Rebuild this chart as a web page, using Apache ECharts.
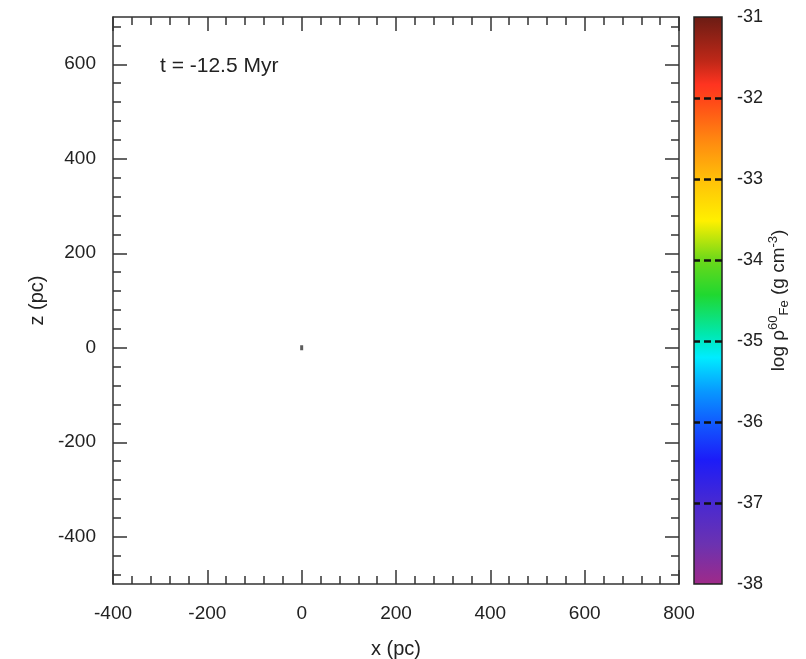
<!DOCTYPE html>
<html>
<head>
<meta charset="utf-8">
<script src="https://cdn.jsdelivr.net/npm/echarts@6/dist/echarts.min.js"></script>
<style>
  html, body { margin: 0; padding: 0; background: #fff; }
  #main { width: 806px; height: 659px; }
</style>
</head>
<body>
<div id="main"></div>
<script>
// particle position (pc)
const points = [[0, 0]];

// axis ranges and ticks
const xRange = [-400, 800];
const zRange = [-500, 700];
const xTicks = [-400, -200, 0, 200, 400, 600, 800];
const zTicks = [-400, -200, 0, 200, 400, 600];
const minorStep = 40;

// colour bar: log density range and labelled ticks
const cbRange = [-38, -31];
const cbTicks = [-38, -37, -36, -35, -34, -33, -32, -31];

const FONT = 'Liberation Sans, Arial, sans-serif';
const AX = '#333';

// minor ticks for the z axis (axis min is not a multiple of the major step)
function minorTicks(range, step) {
  const out = [];
  const start = Math.ceil(range[0] / step) * step;
  for (let v = start; v <= range[1]; v += step) out.push(v);
  return out;
}
const zMinor = minorTicks(zRange, minorStep);

const chart = echarts.init(document.getElementById('main'), null, { renderer: 'canvas' });

const frameAxis = (extra) => Object.assign({
  type: 'value',
  gridIndex: 0,
  axisLine: { show: true, onZero: false, lineStyle: { color: AX, width: 1.5 } },
  axisTick: { show: true, inside: true, length: 14, lineStyle: { color: AX, width: 1.5 } },
  axisLabel: { show: false },
  splitLine: { show: false }
}, extra);

const option = {
  animation: false,
  backgroundColor: '#fff',
  title: {
    text: 't = -12.5 Myr',
    left: 155,
    top: 51,
    textStyle: { fontFamily: FONT, fontSize: 21, fontWeight: 'normal', color: '#222' }
  },
  grid: [
    { left: 113, top: 17, width: 566, height: 567, containLabel: false, outerBoundsMode: 'none' },
    { left: 694, top: 17, width: 28, height: 567, containLabel: false, outerBoundsMode: 'none' }
  ],
  xAxis: [
    frameAxis({
      position: 'bottom', min: xRange[0], max: xRange[1], interval: 200,
      axisTick: { show: true, inside: true, length: 14, customValues: xTicks, lineStyle: { color: AX, width: 1.5 } },
      minorTick: { show: true, splitNumber: 5, length: 8, lineStyle: { color: AX, width: 1.5 } },
      axisLabel: { show: true, margin: 20, customValues: xTicks, fontFamily: FONT, fontSize: 19, color: '#222' },
      name: 'x (pc)', nameLocation: 'middle', nameGap: 55,
      nameTextStyle: { fontFamily: FONT, fontSize: 20, color: '#222' }
    }),
    frameAxis({
      position: 'top', min: xRange[0], max: xRange[1], interval: 200,
      minorTick: { show: true, splitNumber: 5, length: 8, lineStyle: { color: AX, width: 1.5 } }
    }),
    { type: 'value', gridIndex: 1, min: 0, max: 1, show: false }
  ],
  yAxis: [
    frameAxis({
      position: 'left', min: zRange[0], max: zRange[1],
      axisTick: { show: true, inside: true, length: 14, customValues: zTicks, lineStyle: { color: AX, width: 1.5 } },
      axisLabel: { show: true, margin: 17, customValues: zTicks, fontFamily: FONT, fontSize: 19, color: '#222' },
      name: 'z (pc)', nameLocation: 'middle', nameGap: 62, nameRotate: 90,
      nameTextStyle: { fontFamily: FONT, fontSize: 20, color: '#222' }
    }),
    frameAxis({
      position: 'right', min: zRange[0], max: zRange[1],
      axisTick: { show: true, inside: true, length: 14, customValues: zTicks, lineStyle: { color: AX, width: 1.5 } }
    }),
    frameAxis({
      position: 'left', min: zRange[0], max: zRange[1],
      axisLine: { show: false, onZero: false },
      axisTick: { show: true, inside: true, length: 8, customValues: zMinor, lineStyle: { color: AX, width: 1.5 } }
    }),
    frameAxis({
      position: 'right', min: zRange[0], max: zRange[1],
      axisLine: { show: false, onZero: false },
      axisTick: { show: true, inside: true, length: 8, customValues: zMinor, lineStyle: { color: AX, width: 1.5 } }
    }),
    {
      type: 'value', gridIndex: 1, position: 'right',
      min: cbRange[0], max: cbRange[1], interval: 1, z: 10,
      axisLine: { show: false, onZero: false },
      axisTick: { show: true, inside: true, length: 28, customValues: cbTicks.slice(1, -1),
        lineStyle: { color: '#111', width: 2.5, type: [7, 4] } },
      axisLabel: { show: true, margin: 15, customValues: cbTicks, fontFamily: FONT, fontSize: 18, color: '#222' },
      splitLine: { show: false },
      name: '{n|log ρ}{sup|60}{sub|Fe}{n| (g cm}{sup|-3}{n|)}',
      nameLocation: 'middle', nameGap: 44, nameRotate: 90,
      nameTextStyle: {
        fontFamily: FONT, fontSize: 19, color: '#222',
        rich: {
          n: { fontFamily: FONT, fontSize: 19, color: '#222', lineHeight: 24 },
          sup: { fontFamily: FONT, fontSize: 13, color: '#222', lineHeight: 24, verticalAlign: 'top' },
          sub: { fontFamily: FONT, fontSize: 13, color: '#222', lineHeight: 24, verticalAlign: 'bottom' }
        }
      }
    }
  ],
  series: [
    {
      type: 'scatter',
      xAxisIndex: 0,
      yAxisIndex: 0,
      data: points,
      symbol: 'rect',
      symbolSize: [3, 5],
      itemStyle: { color: '#333' }
    },
    {
      // colour bar body
      type: 'custom',
      xAxisIndex: 2,
      yAxisIndex: 4,
      data: [[0, cbRange[0], 1, cbRange[1]]],
      silent: true,
      renderItem: function (params, api) {
        const p0 = api.coord([api.value(0), api.value(1)]);
        const p1 = api.coord([api.value(2), api.value(3)]);
        return {
          type: 'rect',
          shape: { x: p0[0], y: p1[1], width: p1[0] - p0[0], height: p0[1] - p1[1] },
          style: {
            fill: new echarts.graphic.LinearGradient(0, 0, 0, 1, [
              { offset: 0.00, color: '#6a1c14' },
              { offset: 0.08, color: '#c02818' },
              { offset: 0.12, color: '#ff3420' },
              { offset: 0.15, color: '#ff4a18' },
              { offset: 0.22, color: '#ff8a10' },
              { offset: 0.29, color: '#ffc208' },
              { offset: 0.36, color: '#fff000' },
              { offset: 0.43, color: '#6ad81a' },
              { offset: 0.49, color: '#20d830' },
              { offset: 0.56, color: '#00e8b0' },
              { offset: 0.60, color: '#00ecff' },
              { offset: 0.66, color: '#0898ff' },
              { offset: 0.71, color: '#1060ff' },
              { offset: 0.78, color: '#1c1cf8' },
              { offset: 0.86, color: '#4a2ad0' },
              { offset: 0.93, color: '#6c32b0' },
              { offset: 1.00, color: '#a02a88' }
            ]),
            stroke: '#222',
            lineWidth: 1.5
          }
        };
      }
    }
  ]
};

chart.setOption(option);
</script>
</body>
</html>
